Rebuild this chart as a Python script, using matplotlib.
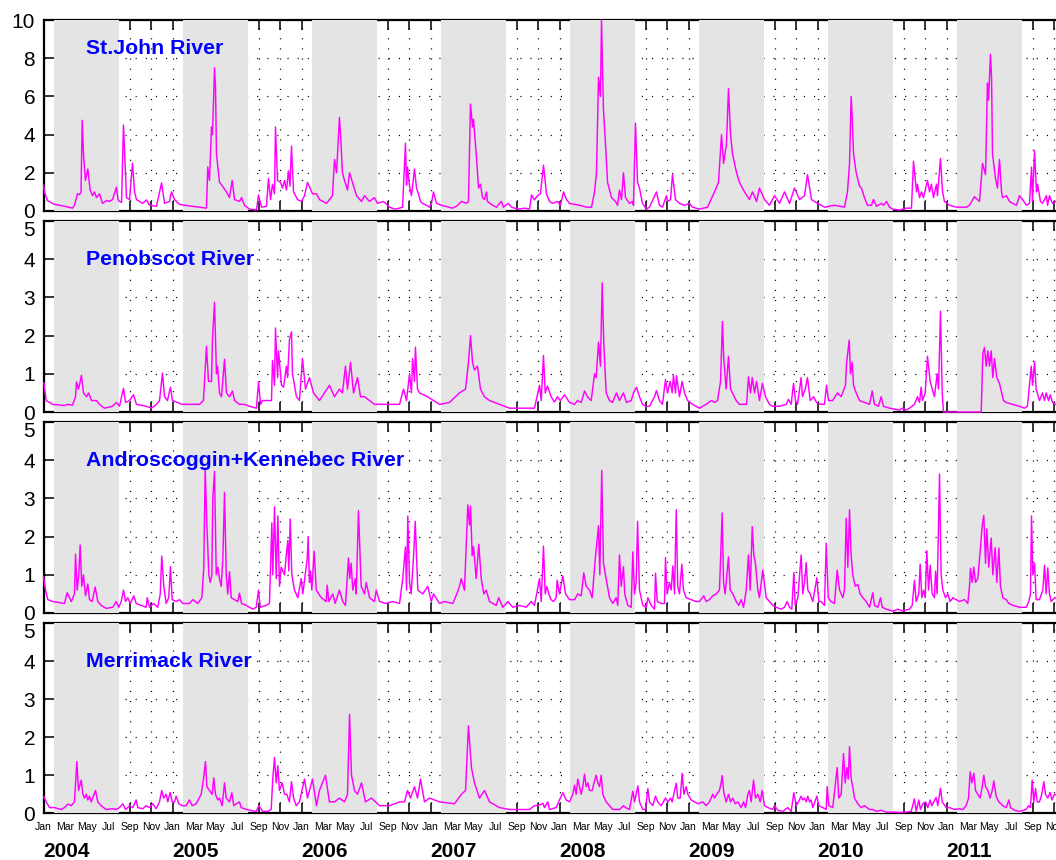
import matplotlib
matplotlib.use("Agg")
import matplotlib.pyplot as plt
import numpy as np

plt.rcParams['font.family'] = ['Liberation Sans', 'DejaVu Sans']

# time axis: months since 1 Jan 2004
years = [2004, 2005, 2006, 2007, 2008, 2009, 2010, 2011]
month_labels = ['Jan', 'Mar', 'May', 'Jul', 'Sep', 'Nov']
shade_months = (1, 7)  # Feb .. end of Jul shaded each year

river_names = ['St.John River', 'Penobscot River',
               'Androscoggin+Kennebec River', 'Merrimack River']

st_john = [(0.0,1.35),(0.09,1.0),(0.37,0.55),(1.0,0.35),(1.95,0.25),(2.7,0.15),(2.88,0.3),(3.16,0.9),
 (3.35,0.85),(3.49,1.0),(3.6,4.75),(3.72,3.0),(3.9,1.6),(4.12,2.2),(4.34,1.1),(4.56,0.8),(4.74,1.0),
 (4.93,0.7),(5.21,0.9),(5.49,0.4),(5.86,0.55),(6.14,0.5),(6.42,0.6),(6.79,1.25),(6.93,0.6),(7.07,0.5),
 (7.26,0.45),(7.44,4.5),(7.72,0.7),(8.0,0.6),(8.28,2.5),(8.47,1.0),(8.65,0.6),(9.21,0.4),(9.58,0.58),
 (9.86,0.3),(10.51,0.25),(10.98,1.47),(11.26,0.4),(11.72,0.5),(11.91,1.0),(12.19,0.6),(12.65,0.35),
 (13.12,0.3),(14.51,0.2),(15.16,0.15),(15.28,2.3),(15.44,1.6),(15.63,4.4),(15.72,4.0),(15.91,7.5),
 (16.0,6.5),(16.09,3.0),(16.37,1.5),(16.65,1.3),(17.02,1.0),(17.3,0.7),(17.55,1.6),(17.77,0.6),
 (18.23,0.5),(18.42,0.7),(18.7,0.3),(19.16,0.1),(19.81,0.05),(20.0,0.84),(20.28,0.2),(20.74,0.25),
 (20.93,1.7),(21.12,0.6),(21.3,1.4),(21.49,0.9),(21.58,4.4),(21.77,1.6),(22.05,1.5),(22.23,1.2),
 (22.42,1.6),(22.6,1.1),(22.79,2.1),(22.93,1.3),(23.07,3.4),(23.26,1.0),(23.63,0.6),(24.0,0.5),
 (24.28,0.8),(24.56,1.5),(25.02,0.9),(25.4,0.9),(25.67,0.6),(26.33,0.4),(26.6,0.6),(26.88,0.8),
 (27.07,2.7),(27.26,2.0),(27.53,4.9),(27.63,4.0),(27.81,2.0),(28.0,1.6),(28.28,1.1),(28.47,2.0),
 (28.74,1.5),(29.12,0.8),(29.58,0.5),(29.86,0.8),(30.33,0.5),(30.79,0.7),(31.07,0.4),(31.63,0.5),
 (32.19,0.2),(32.65,0.1),(33.12,0.15),(33.4,0.2),(33.67,3.55),(33.77,1.36),(33.86,2.3),(34.05,1.3),
 (34.23,0.8),(34.51,2.2),(34.7,1.2),(34.88,0.9),(35.07,0.5),(35.26,0.4),(35.63,0.3),(35.91,0.2),
 (36.09,0.4),(36.28,1.0),(36.56,0.4),(37.02,0.3),(38.05,0.15),(38.42,0.25),(38.88,0.5),(39.35,0.4),
 (39.53,0.5),(39.72,5.6),(39.91,4.4),(40.0,4.8),(40.19,3.4),(40.28,2.8),(40.47,1.2),(40.65,1.4),
 (40.84,0.7),(41.02,0.6),(41.21,1.0),(41.3,0.5),(41.77,0.3),(42.14,0.2),(42.42,0.4),(42.6,0.5),
 (42.79,0.2),(42.98,0.3),(43.26,0.4),(43.53,0.2),(43.81,0.15),(44.28,0.1),(44.74,0.15),(45.21,0.1),
 (45.4,0.84),(45.67,0.58),(45.95,0.8),(46.23,0.9),(46.51,2.4),(46.79,0.9),(47.07,0.5),(47.35,0.4),
 (47.81,0.5),(48.09,0.3),(48.37,1.0),(48.65,0.6),(48.93,0.4),(49.86,0.3),(50.51,0.2),(50.98,0.2),
 (51.26,1.0),(51.44,2.0),(51.63,7.0),(51.81,6.0),(51.91,10.0),(52.0,7.5),(52.09,5.3),(52.28,3.5),
 (52.47,1.5),(52.84,0.7),(53.21,0.5),(53.4,0.3),(53.58,1.1),(53.77,0.6),(53.95,2.0),(54.14,0.7),
 (54.51,0.4),(54.79,0.5),(54.88,0.3),(55.07,4.6),(55.26,1.5),(55.44,1.2),(55.72,0.4),(56.09,0.1),
 (56.37,0.2),(57.02,1.0),(57.3,0.3),(57.58,0.2),(57.95,0.8),(58.05,0.5),(58.33,0.6),(58.51,1.9),
 (58.79,0.6),(59.16,0.4),(59.63,0.3),(60.09,0.4),(60.37,0.2),(61.02,0.1),(61.77,0.2),(62.42,1.0),
 (62.79,1.5),(63.07,4.0),(63.26,2.5),(63.53,3.5),(63.72,6.4),(63.91,4.0),(64.09,3.0),(64.47,2.0),
 (64.74,1.5),(65.21,1.0),(65.67,0.6),(65.95,1.0),(66.33,0.5),(66.6,1.2),(67.07,0.6),(67.53,0.3),
 (68.0,0.8),(68.47,0.4),(68.93,1.0),(69.4,0.4),(69.86,1.2),(70.33,0.6),(70.79,0.8),(71.07,1.9),
 (71.44,0.6),(72.0,0.4),(72.65,0.2),(73.58,0.3),(74.51,0.2),(74.79,1.0),(74.98,2.5),(75.13,6.0),
 (75.23,4.9),(75.35,3.0),(75.6,2.0),(75.91,1.3),(76.09,1.2),(76.37,0.7),(76.65,0.3),(77.02,0.3),
 (77.21,0.6),(77.49,0.25),(77.95,0.4),(78.14,0.3),(78.42,0.5),(78.7,0.2),(78.98,0.1),(79.63,0.05),
 (80.28,0.15),(80.74,0.15),(80.93,2.6),(81.21,1.0),(81.3,1.4),(81.49,0.7),(81.67,1.0),(81.86,0.7),
 (82.23,1.6),(82.42,1.0),(82.6,1.4),(82.79,0.7),(83.07,1.4),(83.16,0.8),(83.44,2.75),(83.63,1.0),
 (83.81,0.5),(84.28,0.3),(84.93,0.2),(85.86,0.2),(86.14,0.3),(86.6,0.75),(87.07,0.5),(87.35,2.5),
 (87.63,1.9),(87.81,6.7),(87.91,5.8),(88.09,8.2),(88.19,7.0),(88.28,3.0),(88.56,1.7),(88.74,1.2),
 (88.93,2.7),(89.12,1.0),(89.21,0.7),(89.58,0.8),(89.86,0.5),(90.14,0.4),(90.51,0.3),(90.79,0.8),
 (91.07,0.6),(91.44,0.3),(91.72,0.4),(91.91,2.3),(92.0,0.5),(92.19,3.15),(92.37,1.0),(92.47,1.4),
 (92.74,0.5),(92.93,0.4),(93.3,0.8),(93.4,0.3),(93.58,0.8),(93.86,0.4),(94.14,0.5),(94.5,0.4)]

penobscot = [(0.03,0.76),(0.25,0.3),(0.84,0.2),(1.95,0.17),(2.23,0.2),(2.7,0.18),(2.98,0.4),(3.07,0.79),
 (3.26,0.6),(3.53,0.96),(3.72,0.5),(4.0,0.4),(4.19,0.5),(4.47,0.3),(4.93,0.3),(5.21,0.2),(5.67,0.1),
 (6.42,0.15),(6.79,0.25),(7.07,0.15),(7.44,0.62),(7.63,0.25),(8.0,0.3),(8.37,0.45),(8.65,0.2),
 (9.58,0.15),(10.05,0.1),(10.51,0.2),(10.79,0.3),(11.07,1.02),(11.26,0.4),(11.53,0.3),(11.81,0.65),
 (12.0,0.3),(12.47,0.25),(12.84,0.2),(13.58,0.2),(14.51,0.2),(14.88,0.3),(15.16,1.72),(15.35,0.8),
 (15.63,0.8),(15.72,1.93),(15.91,2.87),(16.09,1.0),(16.19,1.2),(16.37,0.5),(16.56,0.4),(16.84,1.38),
 (17.02,0.5),(17.3,0.4),(17.58,0.55),(17.77,0.3),(18.23,0.2),(18.7,0.2),(19.16,0.15),(19.81,0.1),
 (20.0,0.79),(20.19,0.2),(20.37,0.3),(20.84,0.3),(21.21,0.3),(21.3,1.35),(21.49,0.7),(21.58,2.2),
 (21.77,0.9),(21.86,1.6),(22.14,0.7),(22.33,0.65),(22.6,1.2),(22.7,0.9),(22.88,1.9),(23.07,2.1),
 (23.16,1.0),(23.53,0.4),(23.81,0.3),(24.09,1.4),(24.37,0.6),(24.74,0.9),(25.12,0.5),(25.67,0.3),
 (26.14,0.5),(26.6,0.7),(27.07,0.4),(27.53,0.6),(27.81,0.5),(28.09,1.2),(28.28,0.6),(28.56,1.3),
 (28.84,0.5),(29.21,0.9),(29.49,0.4),(29.86,0.4),(30.79,0.2),(32.19,0.2),(33.12,0.2),(33.49,0.6),
 (33.77,0.3),(34.05,1.0),(34.23,0.5),(34.33,1.4),(34.51,0.8),(34.6,1.7),(34.79,0.6),(34.98,0.5),
 (35.72,0.4),(36.84,0.2),(37.77,0.25),(38.7,0.5),(39.26,0.6),(39.53,1.3),(39.72,2.0),(39.91,1.3),
 (40.09,1.1),(40.37,1.2),(40.65,0.6),(41.02,0.4),(41.49,0.3),(42.42,0.2),(43.35,0.1),(45.67,0.1),
 (46.14,0.7),(46.3,0.3),(46.51,1.48),(46.67,0.5),(46.88,0.68),(47.22,0.4),(47.53,0.26),(47.81,0.4),
 (48.07,0.3),(48.47,0.45),(48.93,0.25),(49.4,0.2),(49.67,0.3),(50.02,0.25),(50.33,0.55),(50.6,0.4),
 (50.95,0.3),(51.26,1.0),(51.41,0.9),(51.63,1.83),(51.81,1.2),(51.97,3.38),(52.12,1.8),(52.34,0.5),
 (52.65,0.3),(52.93,0.25),(53.3,0.5),(53.58,0.3),(53.95,0.5),(54.23,0.25),(54.67,0.3),(54.88,0.5),
 (55.16,0.65),(55.44,0.4),(55.72,0.2),(56.07,0.15),(56.37,0.15),(56.84,0.4),(57.02,0.56),(57.3,0.3),
 (57.58,0.2),(57.86,0.85),(58.05,0.5),(58.3,0.8),(58.48,0.5),(58.6,0.96),(58.79,0.5),(58.88,0.95),
 (59.16,0.4),(59.41,0.8),(59.63,0.5),(59.91,0.3),(60.37,0.2),(61.02,0.1),(61.64,0.2),(62.11,0.3),
 (62.42,0.25),(62.7,0.3),(62.98,0.8),(63.16,2.37),(63.28,1.4),(63.5,0.6),(63.72,1.46),(63.91,0.6),
 (64.09,0.5),(64.44,0.3),(64.74,0.2),(65.4,0.2),(65.58,0.92),(65.77,0.5),(65.93,0.9),(66.14,0.5),
 (66.33,0.8),(66.6,0.3),(66.88,0.75),(67.16,0.4),(67.53,0.2),(67.81,0.15),(68.47,0.15),(69.09,0.2),
 (69.3,0.33),(69.55,0.2),(69.77,0.75),(69.95,0.3),(70.14,0.2),(70.48,0.9),(70.6,0.4),(70.86,0.6),
 (71.07,0.9),(71.32,0.3),(71.63,0.4),(71.91,0.25),(72.34,0.2),(72.65,0.2),(72.84,0.7),(73.02,0.3),
 (73.4,0.3),(73.86,0.5),(74.2,0.4),(74.6,0.7),(74.7,1.27),(74.95,1.88),(75.07,1.0),(75.23,1.3),
 (75.35,0.7),(75.6,0.5),(75.91,0.3),(76.37,0.25),(76.84,0.2),(77.09,0.55),(77.3,0.2),(77.67,0.15),
 (77.92,0.4),(78.14,0.15),(78.7,0.1),(79.63,0.05),(79.91,0.1),(80.25,0.05),(80.56,0.1),(81.02,0.2),
 (81.3,0.4),(81.49,0.25),(81.64,0.65),(81.77,0.3),(82.02,0.5),(82.23,1.46),(82.48,0.8),(82.67,0.6),
 (82.88,0.4),(83.13,1.0),(83.26,0.6),(83.44,2.64),(83.6,0.5),(83.72,0.0),(87.23,0.0),(87.38,1.53),
 (87.53,1.69),(87.69,1.2),(87.84,1.6),(88.0,1.2),(88.16,1.6),(88.31,0.9),(88.47,1.4),(88.68,0.9),
 (88.93,0.75),(89.09,0.55),(89.3,0.3),(89.55,0.25),(90.14,0.2),(90.79,0.15),(91.26,0.1),(91.53,0.15),
 (91.88,1.2),(92.0,0.7),(92.19,1.31),(92.34,0.6),(92.65,0.3),(92.93,0.5),(93.12,0.3),(93.27,0.5),
 (93.49,0.3),(93.65,0.45),(93.86,0.25),(94.14,0.2),(94.5,0.2)]

andro_kennebec = [(0.0,0.95),(0.19,0.6),(0.4,0.35),(0.87,0.3),(1.95,0.25),(2.2,0.53),(2.58,0.3),(2.88,0.5),
 (2.98,1.54),(3.13,0.6),(3.28,1.0),(3.41,1.78),(3.56,0.7),(3.72,1.0),(3.91,0.45),(4.12,0.76),(4.28,0.35),
 (4.53,0.3),(4.81,0.68),(5.05,0.3),(5.37,0.2),(5.83,0.12),(6.45,0.15),(6.76,0.3),(7.0,0.15),(7.23,0.3),
 (7.44,0.6),(7.63,0.3),(7.84,0.4),(8.07,0.25),(8.4,0.45),(8.62,0.25),(9.09,0.2),(9.55,0.15),(9.65,0.4),
 (9.86,0.15),(10.23,0.25),(10.63,0.15),(10.86,0.5),(11.0,1.49),(11.19,0.7),(11.41,0.25),(11.65,0.4),
 (11.81,1.21),(11.97,0.35),(12.34,0.3),(12.65,0.35),(12.96,0.25),(13.58,0.25),(13.89,0.35),(14.35,0.25),
 (14.73,0.4),(14.91,1.18),(15.04,3.8),(15.19,2.36),(15.38,1.0),(15.51,0.8),(15.66,1.0),(15.75,3.0),
 (15.91,3.71),(16.07,1.0),(16.21,1.2),(16.37,0.9),(16.53,0.7),(16.68,1.4),(16.84,3.16),(17.0,1.0),
 (17.14,0.5),(17.3,1.08),(17.46,0.4),(17.77,0.35),(18.07,0.3),(18.23,0.52),(18.42,0.25),(18.86,0.2),
 (19.47,0.1),(19.79,0.15),(20.0,0.6),(20.16,0.15),(20.72,0.2),(21.02,0.25),(21.24,2.36),(21.33,1.0),
 (21.49,2.78),(21.65,0.9),(21.8,2.54),(21.95,0.7),(22.11,1.2),(22.42,1.0),(22.58,1.5),(22.73,1.9),
 (22.82,1.1),(22.95,2.46),(23.1,1.0),(23.35,0.6),(23.66,0.4),(23.97,0.9),(24.12,0.5),(24.53,1.41),
 (24.62,2.0),(24.74,0.8),(24.84,1.1),(24.96,0.6),(25.18,1.62),(25.37,0.6),(25.84,0.4),(26.3,0.3),
 (26.39,0.73),(26.54,0.3),(26.91,0.5),(27.13,0.25),(27.53,0.6),(27.84,0.3),(28.09,0.2),(28.37,1.44),
 (28.49,0.9),(28.62,1.3),(28.77,0.6),(29.0,0.9),(29.09,0.5),(29.3,2.68),(29.55,0.7),(29.86,0.5),
 (30.02,0.8),(30.33,0.4),(30.79,0.3),(30.95,0.6),(31.26,0.3),(31.88,0.25),(32.49,0.3),(33.12,0.25),
 (33.42,0.9),(33.67,1.73),(33.77,0.6),(33.89,2.54),(34.05,0.8),(34.2,0.5),(34.42,1.46),(34.58,2.4),
 (34.82,0.6),(35.28,0.5),(35.75,0.7),(36.07,0.3),(36.28,0.5),(36.84,0.25),(37.3,0.3),(38.08,0.25),
 (38.45,0.5),(38.7,0.7),(38.86,0.9),(39.16,0.6),(39.47,2.83),(39.63,2.3),(39.72,2.8),(39.88,1.5),
 (40.0,1.74),(40.25,0.9),(40.49,1.8),(40.72,0.9),(40.96,0.5),(41.18,0.6),(41.49,0.3),(42.11,0.2),
 (42.35,0.4),(42.73,0.15),(43.19,0.3),(43.66,0.15),(44.28,0.2),(44.9,0.15),(45.37,0.3),(45.67,0.2),
 (46.14,0.9),(46.3,0.3),(46.51,1.75),(46.67,0.5),(46.82,0.7),(47.0,0.5),(47.22,0.35),(47.44,0.3),
 (47.69,0.4),(47.78,0.86),(48.0,0.5),(48.31,0.97),(48.56,0.5),(48.93,0.35),(49.4,0.35),(49.7,0.5),
 (50.02,0.45),(50.26,1.05),(50.48,0.7),(50.79,0.6),(51.04,0.4),(51.32,1.4),(51.63,2.28),(51.75,1.0),
 (51.93,3.73),(52.09,1.3),(52.34,0.9),(52.65,0.4),(52.96,0.25),(53.27,0.4),(53.42,0.2),(53.58,1.52),
 (53.74,0.7),(53.95,1.21),(54.07,0.5),(54.35,0.2),(54.67,0.15),(54.82,1.6),(54.98,0.5),(55.13,0.8),
 (55.26,2.4),(55.44,0.6),(55.75,0.2),(56.07,0.15),(56.22,0.4),(56.53,0.2),(56.84,0.1),(56.93,1.04),
 (57.09,0.3),(57.46,0.25),(57.77,0.25),(57.86,1.45),(58.01,0.5),(58.23,0.8),(58.39,0.6),(58.54,1.23),
 (58.7,0.5),(58.86,2.7),(59.0,0.7),(59.16,0.5),(59.38,1.28),(59.53,0.6),(59.79,0.4),(60.25,0.35),
 (60.72,0.3),(61.02,0.3),(61.42,0.45),(61.64,0.3),(61.95,0.35),(62.26,0.45),(62.58,0.5),(62.88,0.6),
 (62.98,1.37),(63.13,2.62),(63.26,0.8),(63.41,0.5),(63.72,1.47),(63.88,0.6),(64.12,0.5),(64.44,0.3),
 (64.68,0.2),(64.9,0.35),(65.12,0.15),(65.37,0.6),(65.58,1.52),(65.74,0.6),(65.93,2.26),(66.08,1.5),
 (66.23,1.3),(66.45,0.6),(66.6,0.4),(66.91,1.12),(67.23,0.4),(67.53,0.3),(67.84,0.2),(68.16,0.15),
 (68.62,0.1),(68.93,0.15),(69.18,0.3),(69.4,0.15),(69.61,0.1),(69.8,1.06),(69.93,0.2),(70.17,0.4),
 (70.48,1.52),(70.63,0.5),(70.79,0.8),(70.95,1.32),(71.1,0.6),(71.32,0.5),(71.56,0.3),(71.94,0.92),
 (72.12,0.3),(72.34,0.3),(72.65,0.2),(72.81,1.83),(73.0,0.4),(73.27,0.3),(73.58,0.25),(73.83,1.12),
 (74.05,0.6),(74.36,0.4),(74.51,0.6),(74.67,2.48),(74.82,1.2),(74.98,2.7),(75.13,1.5),(75.28,1.0),
 (75.51,0.7),(75.75,0.75),(75.97,0.5),(76.22,0.4),(76.53,0.3),(76.84,0.15),(77.14,0.53),(77.3,0.2),
 (77.61,0.15),(77.86,0.4),(78.02,0.15),(78.39,0.1),(79.01,0.05),(79.47,0.1),(79.94,0.05),(80.25,0.08),
 (80.56,0.1),(80.81,0.2),(81.02,0.86),(81.18,0.3),(81.42,0.5),(81.55,1.28),(81.7,0.4),(81.86,0.6),
 (82.02,0.4),(82.17,1.63),(82.33,0.6),(82.48,1.25),(82.67,0.5),(82.88,0.4),(82.98,1.1),(83.13,0.5),
 (83.35,3.64),(83.5,1.0),(83.66,0.6),(83.91,0.4),(84.12,0.5),(84.34,0.3),(84.59,0.4),(84.9,0.35),
 (85.21,0.3),(85.67,0.35),(85.98,0.25),(86.14,0.7),(86.23,1.17),(86.39,0.8),(86.54,1.2),(86.7,0.8),
 (86.91,0.9),(87.13,1.6),(87.32,2.28),(87.47,2.55),(87.63,1.3),(87.75,2.2),(87.93,1.2),(88.16,1.96),
 (88.31,1.0),(88.53,1.71),(88.68,0.8),(88.87,1.7),(89.02,0.7),(89.24,0.4),(89.55,0.35),(89.8,0.25),
 (90.17,0.2),(90.79,0.15),(91.41,0.15),(91.66,0.3),(91.81,0.5),(91.91,2.54),(92.03,1.0),(92.19,1.3),
 (92.34,0.35),(92.65,0.35),(92.96,0.6),(93.12,1.25),(93.27,0.5),(93.42,1.18),(93.58,0.5),(93.74,0.3),
 (94.05,0.4),(94.5,0.4)]

merrimack = [(0.03,0.44),(0.25,0.3),(0.56,0.15),(1.02,0.15),(1.65,0.1),(1.95,0.15),(2.26,0.24),(2.58,0.2),
 (2.88,0.3),(3.1,1.36),(3.26,0.6),(3.51,0.87),(3.66,0.5),(3.81,0.4),(3.97,0.5),(4.12,0.35),(4.28,0.45),
 (4.44,0.3),(4.84,0.6),(5.05,0.3),(5.37,0.2),(5.83,0.1),(6.45,0.12),(6.76,0.1),(7.07,0.15),(7.38,0.25),
 (7.63,0.1),(7.84,0.15),(8.0,0.2),(8.31,0.15),(8.62,0.35),(8.77,0.15),(9.24,0.12),(9.55,0.2),(9.86,0.15),
 (10.17,0.25),(10.48,0.12),(10.79,0.3),(11.0,0.6),(11.19,0.4),(11.41,0.5),(11.56,0.3),(11.79,0.55),
 (11.97,0.3),(12.19,0.3),(12.34,0.45),(12.59,0.25),(12.9,0.2),(13.27,0.2),(13.58,0.35),(13.83,0.2),
 (14.2,0.25),(14.67,0.5),(14.88,0.9),(15.07,1.36),(15.19,0.7),(15.44,0.6),(15.69,0.5),(15.84,0.93),
 (16.0,0.5),(16.21,0.35),(16.37,0.4),(16.62,0.2),(16.84,0.8),(17.0,0.4),(17.3,0.3),(17.52,0.54),
 (17.7,0.2),(17.93,0.25),(18.23,0.3),(18.39,0.15),(18.7,0.12),(19.16,0.08),(19.79,0.05),(20.03,0.2),
 (20.4,0.05),(20.87,0.05),(21.18,0.1),(21.33,0.92),(21.49,1.47),(21.65,0.8),(21.8,1.25),(21.95,0.6),
 (22.2,0.8),(22.42,0.5),(22.63,0.5),(22.88,0.3),(23.07,0.83),(23.26,0.4),(23.51,0.2),(23.81,0.3),
 (24.28,0.9),(24.56,0.4),(25.02,0.9),(25.4,0.2),(25.67,0.6),(26.23,1.0),(26.6,0.3),(27.07,0.3),
 (27.53,0.4),(28.0,0.3),(28.28,0.5),(28.47,2.6),(28.65,1.0),(28.93,0.6),(29.21,0.5),(29.58,0.8),
 (29.95,0.3),(30.51,0.4),(31.26,0.2),(32.19,0.2),(33.12,0.3),(33.58,0.3),(33.86,0.6),(34.14,0.4),
 (34.51,0.7),(34.79,0.4),(35.07,0.9),(35.44,0.3),(35.91,0.4),(36.84,0.3),(38.23,0.25),(38.88,0.5),
 (39.26,0.6),(39.53,2.3),(39.81,1.2),(40.09,0.8),(40.56,0.4),(41.02,0.6),(41.49,0.3),(42.42,0.15),
 (43.35,0.1),(45.21,0.1),(45.67,0.2),(46.14,0.22),(46.45,0.26),(46.6,0.15),(46.91,0.3),(47.07,0.1),
 (47.69,0.15),(48.0,0.35),(48.31,0.54),(48.62,0.35),(48.93,0.3),(49.24,0.5),(49.4,0.74),(49.55,0.5),
 (49.7,0.9),(49.86,0.7),(50.02,0.5),(50.17,0.7),(50.33,1.03),(50.48,0.7),(50.64,0.8),(50.79,0.6),
 (51.04,0.6),(51.26,0.85),(51.41,1.0),(51.57,0.8),(51.72,0.7),(51.88,1.0),(52.03,0.5),(52.34,0.3),
 (52.65,0.2),(52.96,0.1),(53.58,0.1),(53.95,0.2),(54.14,0.15),(54.51,0.1),(54.82,0.58),(54.98,0.3),
 (55.29,0.72),(55.44,0.3),(55.75,0.1),(56.0,0.1),(56.22,0.65),(56.37,0.3),(56.68,0.2),(56.93,0.45),
 (57.14,0.3),(57.46,0.2),(57.86,0.4),(58.08,0.3),(58.33,0.4),(58.48,0.3),(58.86,0.79),(59.0,0.4),
 (59.23,0.4),(59.41,1.05),(59.57,0.5),(59.79,0.7),(59.94,0.5),(60.25,0.35),(60.56,0.3),(60.87,0.25),
 (61.33,0.3),(61.64,0.2),(61.95,0.3),(62.26,0.5),(62.42,0.4),(62.63,0.5),(62.88,0.6),(63.04,0.8),
 (63.13,0.99),(63.28,0.55),(63.5,0.3),(63.72,0.5),(63.91,0.3),(64.12,0.4),(64.34,0.25),(64.59,0.3),
 (64.9,0.15),(65.12,0.3),(65.3,0.15),(65.52,0.5),(65.67,0.6),(65.83,0.3),(66.05,0.87),(66.23,0.4),
 (66.45,0.5),(66.67,0.3),(66.85,0.6),(67.07,0.2),(67.38,0.15),(67.84,0.1),(68.0,0.2),(68.31,0.08),
 (68.77,0.05),(69.24,0.15),(69.55,0.05),(69.8,0.54),(70.02,0.2),(70.23,0.3),(70.48,0.45),(70.63,0.35),
 (70.79,0.4),(70.95,0.3),(71.1,0.45),(71.26,0.3),(71.41,0.35),(71.56,0.15),(71.94,0.45),(72.12,0.2),
 (72.49,0.15),(72.81,0.1),(72.9,0.7),(73.05,0.2),(73.42,0.15),(73.83,1.2),(73.98,0.4),(74.2,0.5),
 (74.42,1.57),(74.58,0.8),(74.73,1.2),(74.86,0.9),(74.98,1.75),(75.13,0.9),(75.28,0.7),(75.44,0.4),
 (75.75,0.25),(76.06,0.15),(76.37,0.2),(76.84,0.1),(77.14,0.1),(77.46,0.05),(77.92,0.08),(78.39,0.03),
 (79.01,0.03),(79.63,0.02),(80.25,0.03),(80.71,0.05),(81.02,0.38),(81.18,0.05),(81.42,0.35),(81.58,0.1),
 (81.79,0.25),(82.05,0.3),(82.26,0.15),(82.48,0.35),(82.63,0.2),(83.04,0.42),(83.19,0.2),(83.44,0.66),
 (83.6,0.3),(83.97,0.15),(84.28,0.15),(84.74,0.1),(85.21,0.12),(85.52,0.1),(85.83,0.2),(86.05,0.4),
 (86.2,1.09),(86.36,0.8),(86.54,1.05),(86.7,0.6),(86.91,0.5),(87.13,0.4),(87.32,0.7),(87.47,1.0),
 (87.63,0.7),(87.84,0.6),(88.06,0.4),(88.25,0.6),(88.4,0.85),(88.62,0.45),(88.87,0.3),(89.24,0.2),
 (89.55,0.15),(89.8,0.35),(89.95,0.15),(90.33,0.08),(90.79,0.05),(91.41,0.1),(91.63,0.2),(91.81,0.15),
 (91.97,0.87),(92.12,0.3),(92.28,0.65),(92.44,0.3),(92.65,0.3),(92.86,0.5),(93.05,0.83),(93.21,0.5),
 (93.42,0.4),(93.65,0.55),(93.8,0.35),(94.05,0.5),(94.5,0.45)]

series = [st_john, penobscot, andro_kennebec, merrimack]
y_max = [10, 5, 5, 5]
y_step = [2, 1, 1, 1]
label_y = [8.5, 4, 4, 4]
label_x = 4.0

W, H = 1056, 860
fig = plt.figure(figsize=(W / 100, H / 100), dpi=100)

px_per_month = 10.75
x_end = 96
left_px = 43.5
panel_px = [(20, 211), (221, 412), (422, 613), (623, 813.3)]

axes = []
for i, (top, bot) in enumerate(panel_px):
    ax = fig.add_axes([left_px / W, 1 - bot / H, x_end * px_per_month / W, (bot - top) / H])
    axes.append(ax)
    ax.set_xlim(0, x_end)
    ax.set_ylim(0, y_max[i])
    ax.set_axisbelow(True)
    for k, yr in enumerate(years):
        ax.axvspan(12 * k + shade_months[0], 12 * k + shade_months[1],
                   facecolor='#e4e4e4', edgecolor='none', zorder=1)
    t, v = zip(*series[i])
    ax.plot(t, v, color='#ff00ff', lw=1.05, zorder=3, clip_on=False)
    ax.text(label_x, label_y[i], river_names[i], color='#0000ff', fontsize=15.3,
            fontweight='bold', ha='left', va='center', zorder=4)
    ax.set_yticks(np.arange(0, y_max[i] + 0.01, y_step[i]))
    ax.set_xticks(np.arange(0, 95, 2))
    ax.grid(True, color='black', linestyle=(0, (0.9, 7.2)), lw=0.9)
    ax.tick_params(axis='both', direction='in', length=7, width=1.1, top=True,
                   bottom=True, left=True, right=False, color='black')
    ax.tick_params(axis='y', labelsize=15, pad=6)
    if i > 0:
        # top label of the lower panels sits just below the panel edge
        ax.get_yticklabels()[-1].set_verticalalignment('top')
    for s in ['top', 'bottom']:
        ax.spines[s].set_linewidth(1.6)
        ax.spines[s].set_zorder(0.6)
    ax.spines['left'].set_linewidth(1.6)
    ax.spines['right'].set_visible(False)
    if i < 3:
        ax.tick_params(axis='x', labelbottom=False)
    else:
        ticks = np.arange(0, 95, 2)
        ax.set_xticklabels([month_labels[(int(m) % 12) // 2] for m in ticks])
        ax.tick_params(axis='x', labelsize=7.5, pad=6)
        for k, yr in enumerate(years):
            ax.annotate(str(yr), xy=(12 * k, 0), xycoords=('data', 'axes fraction'),
                        xytext=(0, -27.6), textcoords='offset points',
                        ha='left', va='center', fontsize=15, fontweight='bold',
                        annotation_clip=False)

fig.savefig('out.png', dpi=100)
